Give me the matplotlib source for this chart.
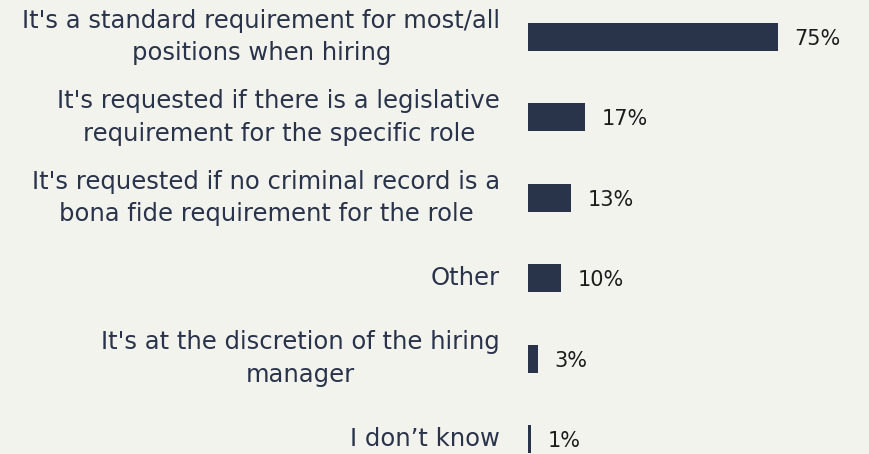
import matplotlib.pyplot as plt

categories = [
    "It's a standard requirement for most/all\npositions when hiring",
    "It's requested if there is a legislative\nrequirement for the specific role",
    "It's requested if no criminal record is a\nbona fide requirement for the role",
    "Other",
    "It's at the discretion of the hiring\nmanager",
    "I don\u2019t know",
]
values = [75, 17, 13, 10, 3, 1]

bg = "#f3f3ee"
navy = "#29334a"

plt.rcParams['font.family'] = ['DejaVu Sans']

fig = plt.figure(figsize=(8.69, 4.54), dpi=100, facecolor=bg)
ax = fig.add_axes([528 / 869, 0, 333.3 / 869, 1], facecolor=bg)

pos = range(len(categories))
ax.barh(pos, values, height=0.35, color=navy)
ax.set_xlim(0, 100)
ax.set_ylim(5 + 15 / 80.4, -37 / 80.4)

for p, v in zip(pos, values):
    ax.annotate(f"{v}%", (v, p), xytext=(12, -1.5), textcoords="offset points",
                va="center", ha="left", fontsize=15, color="#1c1c1c")

ax.set_yticks(list(pos))
ax.set_yticklabels(categories, fontsize=17.5, color=navy, multialignment="center",
                   linespacing=1.44, va="center")
ax.tick_params(axis="y", length=0, pad=20)
ax.set_xticks([])
for s in ax.spines.values():
    s.set_visible(False)

fig.savefig("out.png", dpi=100, facecolor=bg)
